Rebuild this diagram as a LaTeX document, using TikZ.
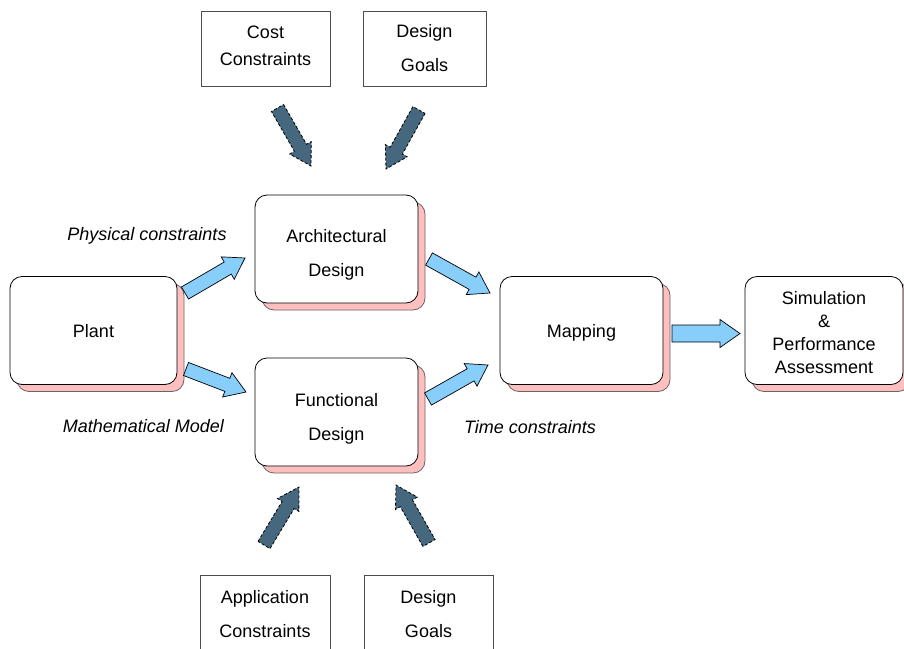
\documentclass[tikz,border=0pt]{standalone}
\usepackage{fontspec}
\setmainfont{Liberation Sans}
\usetikzlibrary{calc,shadows}

\definecolor{shadowpink}{HTML}{FFBFBF}
\definecolor{flowblue}{HTML}{87CEFA}
\definecolor{inputblue}{HTML}{45687F}

\tikzset{
  every node/.style={font=\fontsize{18}{21}\selectfont},
  squarebox/.style={draw=black!70, line width=0.8pt, fill=white,
    minimum width=#1, minimum height=75pt, align=center, inner sep=0pt},
  roundbox/.style={draw=black, line width=0.8pt, rounded corners=12pt, fill=white,
    minimum width=#1, minimum height=108pt, align=center, inner sep=0pt,
    general shadow={fill=shadowpink, draw=black!60, line width=0.8pt,
      shadow xshift=7pt, shadow yshift=-7pt}},
  boxtext/.style={align=center, inner sep=0pt},
  note/.style={font=\fontsize{18}{21}\selectfont\itshape},
  flow/.style={fill=flowblue, draw=black, line width=0.7pt, line join=miter},
  input/.style={fill=inputblue, draw=black, line width=0.8pt,
    dash pattern=on 3pt off 2pt, line join=miter},
}

% block arrow: style, from, to, half shaft width, half head width, head length
\newcommand{\blockarrow}[6]{%
  \coordinate (ba-neck) at ($(#3)!#6!(#2)$);
  \draw[#1] ($(#2)!#4!90:(#3)$) -- ($(ba-neck)!#4!90:(#3)$)
    -- ($(ba-neck)!#5!90:(#3)$) -- (#3)
    -- ($(ba-neck)!#5!-90:(#3)$) -- ($(ba-neck)!#4!-90:(#3)$)
    -- ($(#2)!#4!-90:(#3)$) -- cycle;
}

\begin{document}
\begin{tikzpicture}[x=1pt,y=-1pt]
  \path[use as bounding box] (0,0) rectangle (904,648);
  \clip (0,0) rectangle (904,648);

  % input boxes
  \node[squarebox=129pt, label={[boxtext, font=\fontsize{18}{27}\selectfont, yshift=3pt]center:Cost\\Constraints}] (cost) at (265.5,48.5) {};
  \node[squarebox=123pt, label={[boxtext, font=\fontsize{18}{34}\selectfont]center:Design\\Goals}] (goalsT) at (424.5,48.5) {};
  \node[squarebox=130pt, label={[boxtext, font=\fontsize{18}{34}\selectfont, yshift=-2pt]center:Application\\Constraints}] (appl) at (265,612.5) {};
  \node[squarebox=129pt, label={[boxtext, font=\fontsize{18}{34}\selectfont, yshift=-2pt]center:Design\\Goals}] (goalsB) at (428.5,612.5) {};

  % design flow boxes
  \node[roundbox=167pt, label={[boxtext, yshift=-1pt]center:Plant}] (plant) at (93.5,330.5) {};
  \node[roundbox=163pt, label={[boxtext, font=\fontsize{18}{34}\selectfont, yshift=-6pt]center:Architectural\\Design}] (arch) at (336.5,249) {};
  \node[roundbox=163pt, label={[boxtext, font=\fontsize{18}{34}\selectfont, yshift=-7pt]center:Functional\\Design}] (func) at (336.5,412) {};
  \node[roundbox=163pt, label={[boxtext, yshift=-2pt]center:Mapping}] (map) at (581.5,330.5) {};
  \node[roundbox=158pt, label={[boxtext, font=\fontsize{18}{23}\selectfont, yshift=-2pt]center:Simulation\\\&\\Performance\\Assessment}] (sim) at (824,330.5) {};

  % annotations
  \node[note] (phys) at (147,236) {Physical constraints};
  \node[note] (math) at (143.5,426) {Mathematical Model};
  \node[note] (time) at (530,427) {Time constraints};

  % arrow end points between the boxes
  \coordinate (pa-s) at (185,293);  \coordinate (pa-e) at (245,258);
  \coordinate (pf-s) at (186,369);  \coordinate (pf-e) at (246,392);
  \coordinate (am-s) at (429,259);  \coordinate (am-e) at (490,293);
  \coordinate (fm-s) at (428,399);  \coordinate (fm-e) at (488,365);
  \coordinate (ms-s) at (672,333.5); \coordinate (ms-e) at (740,333.5);
  \coordinate (ca-s) at (277.5,108); \coordinate (ca-e) at (311,166);
  \coordinate (ga-s) at (419,110);  \coordinate (ga-e) at (386,169);
  \coordinate (af-s) at (264,545);  \coordinate (af-e) at (299,487);
  \coordinate (gf-s) at (429,543);  \coordinate (gf-e) at (396,485);

  % design flow arrows
  \blockarrow{flow}{pa-s}{pa-e}{7pt}{13pt}{20pt}
  \blockarrow{flow}{pf-s}{pf-e}{7pt}{13pt}{20pt}
  \blockarrow{flow}{am-s}{am-e}{7pt}{13pt}{20pt}
  \blockarrow{flow}{fm-s}{fm-e}{7pt}{13pt}{20pt}
  \blockarrow{flow}{ms-s}{ms-e}{8.5pt}{14pt}{20pt}

  % constraint input arrows
  \blockarrow{input}{ca-s}{ca-e}{7pt}{12.5pt}{21pt}
  \blockarrow{input}{ga-s}{ga-e}{7pt}{12.5pt}{21pt}
  \blockarrow{input}{af-s}{af-e}{7pt}{12.5pt}{21pt}
  \blockarrow{input}{gf-s}{gf-e}{7pt}{12.5pt}{21pt}
\end{tikzpicture}
\end{document}
